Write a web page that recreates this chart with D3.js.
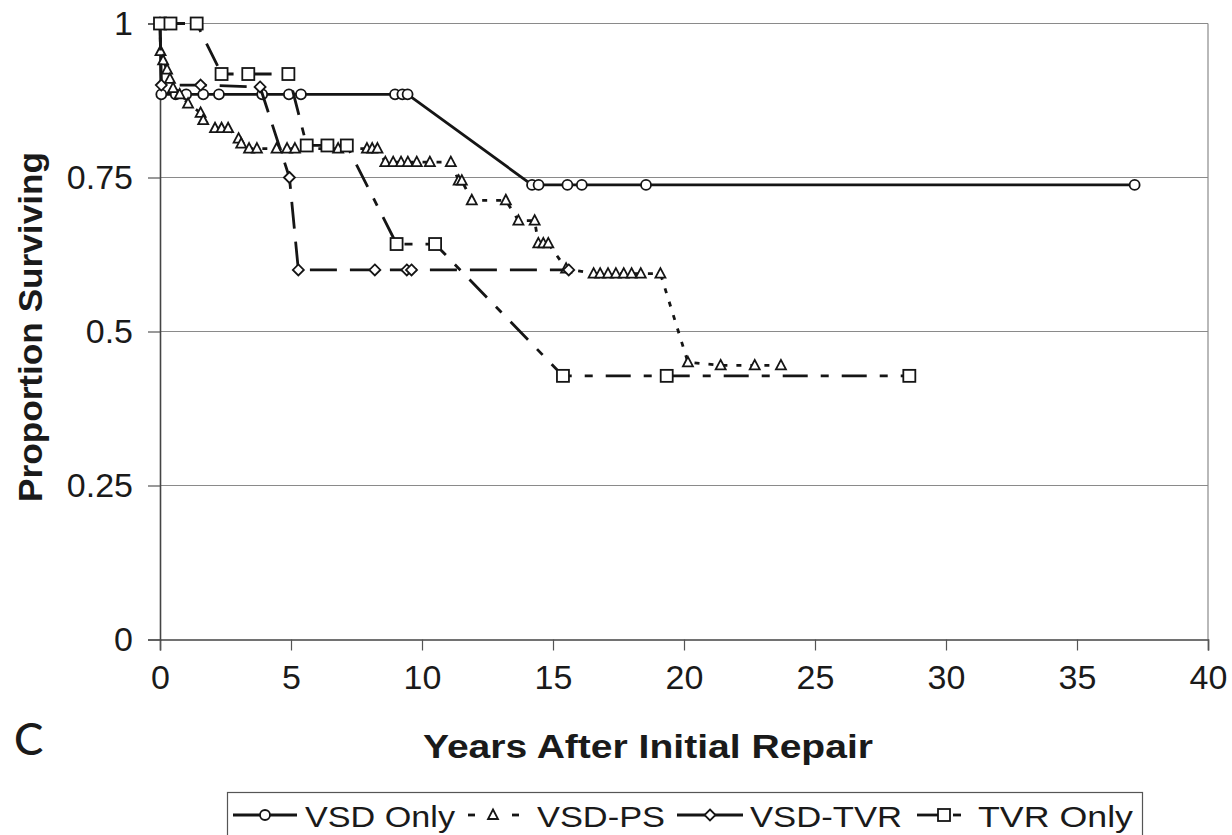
<!DOCTYPE html>
<html>
<head>
<meta charset="utf-8">
<script src="https://cdn.jsdelivr.net/npm/d3@7"></script>
<style>
  html, body { margin: 0; padding: 0; background: #fff; }
  svg { display: block; }
  text { font-family: "Liberation Sans", Arial, sans-serif; fill: #1a1a1a; }
</style>
</head>
<body>
<svg id="chart" width="1232" height="835"></svg>
<script>
// Kaplan-Meier style survival by repair group: [years, proportion surviving]
const vsdOnly = [[0,1],[0.05,0.885],[0.6,0.885],[1.0,0.885],[1.65,0.885],[2.25,0.885],[3.9,0.885],[4.92,0.885],[5.38,0.885],[8.97,0.885],[9.25,0.885],[9.45,0.885],[14.2,0.738],[14.45,0.738],[15.55,0.738],[16.1,0.738],[18.55,0.738],[37.2,0.738]];
const vsdPs = [[0,1],[0.02,0.955],[0.12,0.94],[0.27,0.925],[0.38,0.91],[0.5,0.895],[0.75,0.885],[1.07,0.87],[1.55,0.855],[1.65,0.843],[2.1,0.83],[2.35,0.83],[2.6,0.83],[3.0,0.813],[3.1,0.805],[3.4,0.797],[3.7,0.797],[4.45,0.797],[4.85,0.797],[5.15,0.797],[6.8,0.797],[7.9,0.797],[8.1,0.797],[8.3,0.797],[8.6,0.775],[8.9,0.775],[9.2,0.775],[9.46,0.775],[9.8,0.775],[10.3,0.775],[11.1,0.775],[11.4,0.745],[11.52,0.745],[11.9,0.713],[13.2,0.713],[13.68,0.68],[14.3,0.68],[14.44,0.643],[14.63,0.643],[14.82,0.643],[15.5,0.602],[16.55,0.594],[16.8,0.594],[17.1,0.594],[17.4,0.594],[17.7,0.594],[18.0,0.594],[18.35,0.594],[19.1,0.594],[20.15,0.45],[21.4,0.445],[22.7,0.445],[23.7,0.445]];
const vsdTvr = [[0,1],[0.05,0.9],[1.55,0.9],[3.82,0.897],[4.94,0.75],[5.28,0.6],[8.2,0.6],[9.42,0.6],[9.6,0.6],[15.6,0.6]];
const tvrOnly = [[0,1],[0.4,1],[1.4,1],[2.35,0.918],[3.37,0.918],[4.9,0.918],[5.6,0.802],[6.39,0.802],[7.13,0.802],[9.03,0.642],[10.5,0.642],[15.38,0.428],[19.34,0.428],[28.6,0.428]];

const seriesNames = ["VSD Only", "VSD-PS", "VSD-TVR", "TVR Only"];
const xTicks = [0, 5, 10, 15, 20, 25, 30, 35, 40];
const yTicks = [0, 0.25, 0.5, 0.75, 1];
const yTickLabels = ["0", "0.25", "0.5", "0.75", "1"];

const series = [
  { name: seriesNames[0], data: vsdOnly, dash: null,           marker: "circle" },
  { name: seriesNames[1], data: vsdPs,   dash: "5,9",          marker: "triangle" },
  { name: seriesNames[2], data: vsdTvr,  dash: "27,13",        marker: "diamond" },
  { name: seriesNames[3], data: tvrOnly, dash: "25,13,8,13",   marker: "square" }
];

const svg = d3.select("#chart");
const plot = { left: 160, right: 1208, top: 23.5, bottom: 639.5 };
const ink = "#151515";

const x = d3.scaleLinear().domain([0, 40]).range([plot.left, plot.right]);
const y = d3.scaleLinear().domain([0, 1]).range([plot.bottom, plot.top]);

// gridlines and plot frame
svg.append("g").selectAll("line").data(yTicks.filter(d => d > 0)).join("line")
  .attr("x1", plot.left).attr("x2", plot.right)
  .attr("y1", d => y(d)).attr("y2", d => y(d))
  .attr("stroke", "#8a8a8a").attr("stroke-width", 1);
svg.append("line")
  .attr("x1", plot.right).attr("x2", plot.right)
  .attr("y1", plot.top).attr("y2", plot.bottom)
  .attr("stroke", "#8a8a8a").attr("stroke-width", 1.2);

// axes
const xAxis = d3.axisBottom(x).tickValues(xTicks).tickSize(11).tickPadding(14).tickFormat(d3.format("d"));
const gx = svg.append("g").attr("transform", `translate(0,${plot.bottom})`).call(xAxis);
const yAxis = d3.axisLeft(y).tickValues(yTicks).tickSize(12).tickPadding(15).tickFormat((d, i) => yTickLabels[i]);
const gy = svg.append("g").attr("transform", `translate(${plot.left},0)`).call(yAxis);
[gx, gy].forEach(g => {
  g.select(".domain").attr("stroke", "#444").attr("stroke-width", 1.6);
  g.selectAll(".tick line").attr("stroke", "#555").attr("stroke-width", 1.2);
  g.selectAll(".tick text").attr("font-size", 34).attr("fill", ink)
    .style("font-family", "'Liberation Sans', Arial, sans-serif");
});

// marker shapes
function drawMarker(g, type, cx, cy) {
  const common = s => s.attr("fill", "#fff").attr("stroke", ink).attr("stroke-width", 1.8);
  if (type === "circle") {
    common(g.append("circle").attr("cx", cx).attr("cy", cy).attr("r", 5));
  } else if (type === "square") {
    common(g.append("rect").attr("x", cx - 6).attr("y", cy - 6).attr("width", 12).attr("height", 12));
  } else if (type === "triangle") {
    common(g.append("path").attr("d", `M${cx},${cy - 5.5}L${cx + 5},${cy + 4}L${cx - 5},${cy + 4}Z`));
  } else if (type === "diamond") {
    common(g.append("path").attr("d", `M${cx},${cy - 5.5}L${cx + 5.5},${cy}L${cx},${cy + 5.5}L${cx - 5.5},${cy}Z`));
  }
}

const line = d3.line().x(d => x(d[0])).y(d => y(d[1]));

series.forEach(s => {
  const g = svg.append("g");
  g.append("path").datum(s.data)
    .attr("d", line)
    .attr("fill", "none")
    .attr("stroke", ink)
    .attr("stroke-width", 2.8)
    .attr("stroke-dasharray", s.dash);
  s.data.forEach(d => drawMarker(g, s.marker, x(d[0]), y(d[1])));
});

// axis titles
svg.append("text")
  .attr("x", 648).attr("y", 758)
  .attr("text-anchor", "middle").attr("font-size", 33).attr("font-weight", "bold")
  .attr("textLength", 450).attr("lengthAdjust", "spacingAndGlyphs")
  .text("Years After Initial Repair");
svg.append("text")
  .attr("transform", `translate(42,327) rotate(-90)`)
  .attr("text-anchor", "middle").attr("font-size", 33).attr("font-weight", "bold")
  .attr("textLength", 350).attr("lengthAdjust", "spacingAndGlyphs")
  .text("Proportion Surviving");

// panel letter
svg.append("text")
  .attr("x", 14).attr("y", 755)
  .attr("font-size", 44).attr("font-weight", 500)
  .style("font-family", "Lato, 'Open Sans', sans-serif")
  .text("C");

// legend
const legend = svg.append("g");
legend.append("rect")
  .attr("x", 227.5).attr("y", 792.5).attr("width", 915).attr("height", 60)
  .attr("fill", "#fff").attr("stroke", "#555").attr("stroke-width", 1.2);

const legendItems = [
  { s: series[0], x0: 233, x1: 297, mx: 265, tx: 305, tw: 150 },
  { s: series[1], x0: 468, x1: 519, mx: 493, tx: 537, tw: 128 },
  { s: series[2], x0: 677, x1: 743, mx: 710, tx: 750, tw: 152 },
  { s: series[3], x0: 917, x1: 961, mx: 944, tx: 978, tw: 155 }
];
legendItems.forEach(it => {
  const g = legend.append("g");
  const ly = 815;
  const seg = (a, b) => g.append("line").attr("x1", a).attr("x2", b).attr("y1", ly).attr("y2", ly)
    .attr("stroke", ink).attr("stroke-width", 2.8);
  if (it.s.marker === "triangle") {
    seg(it.x0, it.x0 + 7);
    seg(it.x1 - 7, it.x1);
  } else if (it.s.marker === "square") {
    seg(it.x0, it.mx);
    seg(it.mx + 9, it.x1);
  } else {
    seg(it.x0, it.x1);
  }
  drawMarker(g, it.s.marker, it.mx, ly);
  g.append("text")
    .attr("x", it.tx).attr("y", 827)
    .attr("font-size", 30)
    .attr("textLength", it.tw).attr("lengthAdjust", "spacingAndGlyphs")
    .text(it.s.name);
});
</script>
</body>
</html>
